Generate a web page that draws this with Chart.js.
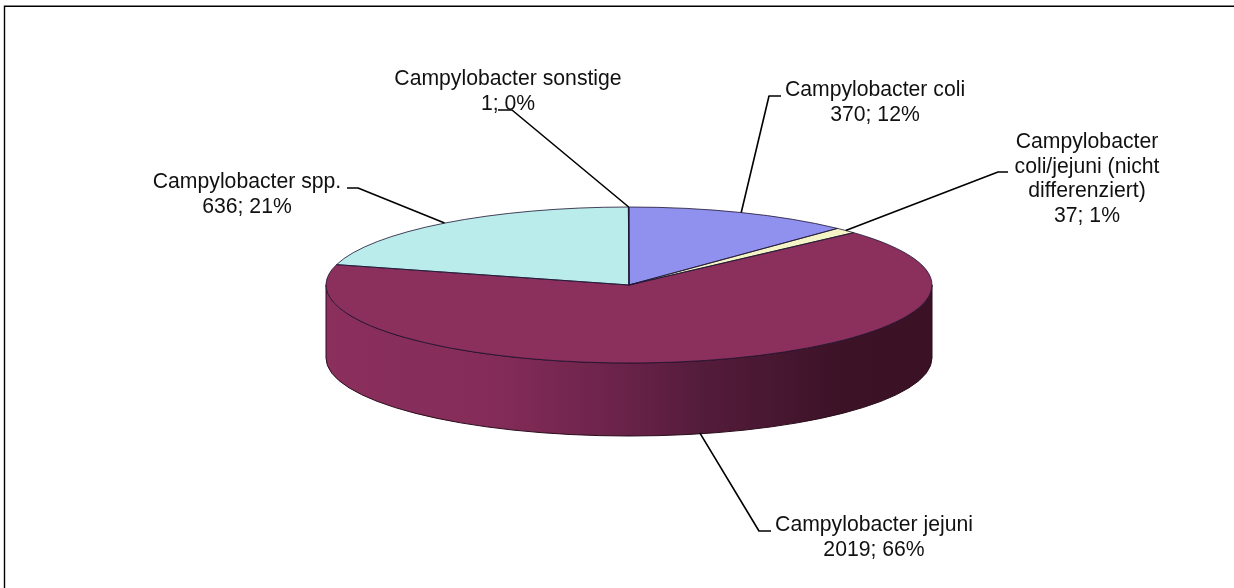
<!DOCTYPE html>
<html>
<head>
<meta charset="utf-8">
<style>html,body{margin:0;padding:0;background:#fff}canvas{display:block}</style>
<script src="https://cdn.jsdelivr.net/npm/chart.js@4"></script>
</head>
<body>
<canvas id="c" width="1234" height="588"></canvas>
<script>
const categories = [
  ["Campylobacter coli"],
  ["Campylobacter", "coli/jejuni (nicht", "differenziert)"],
  ["Campylobacter jejuni"],
  ["Campylobacter spp."],
  ["Campylobacter sonstige"]
];
const values = [370, 37, 2019, 636, 1];
const sliceColors = ["#9090EE", "#F4F4C6", "#8B2F5D", "#BBECEC", "#10103A"];

const SQUASH = 78 / 303, DEPTH = 73, FONT = '21.2px "Liberation Sans", Arial, sans-serif';
// leader layout: elbow, line end, text centre, first baseline
const labelLayout = [
  {elbow:[769,96],  end:[781,96],  tx:875,  ty:96},
  {elbow:[998,172], end:[1008,172],tx:1087, ty:148},
  {elbow:[759,531], end:[771,531], tx:874,  ty:531},
  {elbow:[358,188], end:[347,188], tx:247,  ty:188},
  {elbow:[512,110], end:[498,110], tx:508,  ty:85}
];
const LINE = 24.6;

const pie3d = {
  id: 'pie3d',
  beforeDatasetsDraw(chart) {
    const ctx = chart.ctx, arcs = chart.getDatasetMeta(0).data;
    const {x: cx, y: cy, outerRadius: rx} = arcs[0], ry = rx * SQUASH;
    // frame
    ctx.save();
    ctx.strokeStyle = '#000'; ctx.lineWidth = 1.4;
    ctx.beginPath(); ctx.moveTo(4.5, 588); ctx.lineTo(4.5, 6.3); ctx.lineTo(1234, 6.3); ctx.stroke();
    // side wall of the front-facing slices
    const g = ctx.createLinearGradient(cx - rx, 0, cx + rx, 0);
    g.addColorStop(0, '#8B2F5D'); g.addColorStop(0.28, '#842C59');
    g.addColorStop(0.5, '#682248'); g.addColorStop(0.62, '#541C3B');
    g.addColorStop(0.86, '#3B1226'); g.addColorStop(1, '#3A1125');
    arcs.forEach(a => {
      const a0 = Math.max(a.startAngle, 0), a1 = Math.min(a.endAngle, Math.PI);
      if (a1 <= a0) return;
      ctx.beginPath();
      ctx.ellipse(cx, cy, rx, ry, 0, a0, a1);
      ctx.ellipse(cx, cy + DEPTH, rx, ry, 0, a1, a0, true);
      ctx.closePath();
      ctx.fillStyle = g; ctx.fill();
      ctx.strokeStyle = '#2a0c1c'; ctx.lineWidth = 1; ctx.stroke();
    });
    ctx.restore();
    // squash the pie drawn by the library into the top face
    ctx.save();
    ctx.translate(cx, cy); ctx.scale(1, SQUASH); ctx.translate(-cx, -cy);
  },
  afterDatasetsDraw(chart) {
    const ctx = chart.ctx, arcs = chart.getDatasetMeta(0).data;
    ctx.restore();
    const {x: cx, y: cy, outerRadius: rx} = arcs[0], ry = rx * SQUASH;
    ctx.save();
    // slice outlines
    ctx.lineWidth = 1; ctx.lineJoin = 'round';
    arcs.forEach(a => {
      ctx.beginPath();
      ctx.moveTo(cx, cy);
      ctx.ellipse(cx, cy, rx, ry, 0, a.startAngle, a.endAngle);
      ctx.closePath();
      ctx.strokeStyle = 'rgba(30,20,50,0.8)';
      ctx.stroke();
    });
    // leader lines and labels
    const total = values.reduce((s, v) => s + v, 0);
    ctx.font = FONT; ctx.textAlign = 'center'; ctx.textBaseline = 'alphabetic';
    arcs.forEach((a, i) => {
      const L = labelLayout[i], mid = (a.startAngle + a.endAngle) / 2;
      const sx = cx + rx * Math.cos(mid);
      let sy = cy + ry * Math.sin(mid);
      if (Math.sin(mid) > 0) sy += DEPTH - 1;
      ctx.strokeStyle = '#000'; ctx.lineWidth = 1.6;
      ctx.beginPath(); ctx.moveTo(sx, sy); ctx.lineTo(...L.elbow); ctx.lineTo(...L.end); ctx.stroke();
      const lines = [...categories[i], values[i] + '; ' + Math.round(values[i] / total * 100) + '%'];
      ctx.fillStyle = '#111';
      lines.forEach((t, k) => ctx.fillText(t, L.tx, L.ty + k * LINE));
    });
    ctx.restore();
  }
};

new Chart(document.getElementById('c'), {
  type: 'pie',
  data: {
    labels: categories.map(c => c.join(' ')),
    datasets: [{data: values, backgroundColor: sliceColors, borderWidth: 0, clip: false}]
  },
  options: {
    responsive: false,
    animation: false,
    radius: 303,
    layout: {padding: {left: 24, bottom: 18}},
    plugins: {legend: {display: false}, tooltip: {enabled: false}}
  },
  plugins: [pie3d]
});
</script>
</body>
</html>
